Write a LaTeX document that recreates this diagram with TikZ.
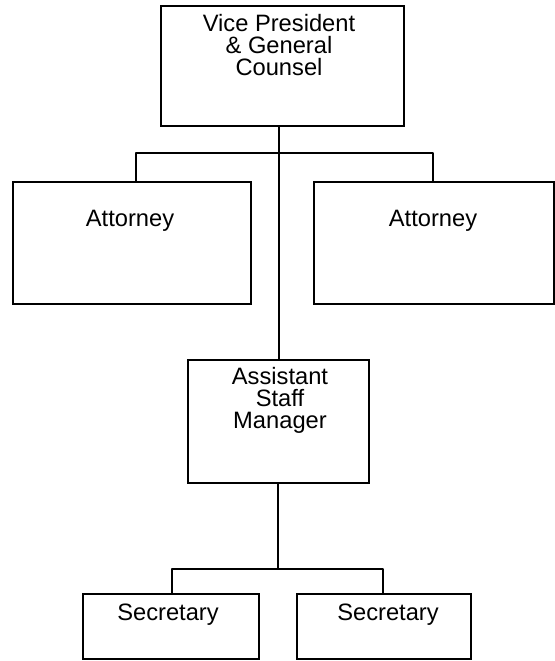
\documentclass[tikz,border=0pt]{standalone}
\usepackage{fontspec}
\setmainfont{Liberation Sans}
\begin{document}
\begin{tikzpicture}[x=1pt,y=-1pt,
  box/.style={draw=black, line width=1.8pt, rectangle, inner sep=0pt, anchor=north west},
  label/.style={inner sep=0pt, align=center, font=\fontsize{23.7}{22}\selectfont},
  wire/.style={draw=black, line width=1.8pt, line cap=round, line join=round}]
\useasboundingbox (0,0) rectangle (554,661);

% boxes
\node[box, minimum width=243pt, minimum height=120pt] (vp)   at (160,5)   {};
\node[box, minimum width=238pt, minimum height=122pt] (attL) at (12,181)  {};
\node[box, minimum width=240pt, minimum height=122pt] (attR) at (313,181) {};
\node[box, minimum width=181pt, minimum height=123pt] (asm)  at (187,359) {};
\node[box, minimum width=176pt, minimum height=65pt]  (secL) at (82,593)  {};
\node[box, minimum width=174pt, minimum height=65pt]  (secR) at (296,593) {};

% texts
\node[label, anchor=north] (vpT)   at (279,14.5) {Vice President\\\& General\\Counsel};
\node[label, anchor=base]  (attLT) at (130,226)  {Attorney};
\node[label, anchor=base]  (attRT) at (433,226)  {Attorney};
\node[label, anchor=north] (asmT)  at (280,366.8) {Assistant\\Staff\\Manager};
\node[label, anchor=base]  (secLT) at (168,620)  {Secretary};
\node[label, anchor=base]  (secRT) at (388,620)  {Secretary};

% junctions
\coordinate (j1) at (279,153);
\coordinate (la) at (136,153);
\coordinate (ra) at (433,153);
\coordinate (j2) at (278,569);
\coordinate (ls) at (172,569);
\coordinate (rs) at (383,569);

% connectors
\draw[wire] (vp.south -| j1) -- (j1 |- asm.north);
\draw[wire] (la |- attL.north) -- (la) -- (ra) -- (ra |- attR.north);
\draw[wire] (asm.south -| j2) -- (j2);
\draw[wire] (ls |- secL.north) -- (ls) -- (rs) -- (rs |- secR.north);
\end{tikzpicture}
\end{document}
